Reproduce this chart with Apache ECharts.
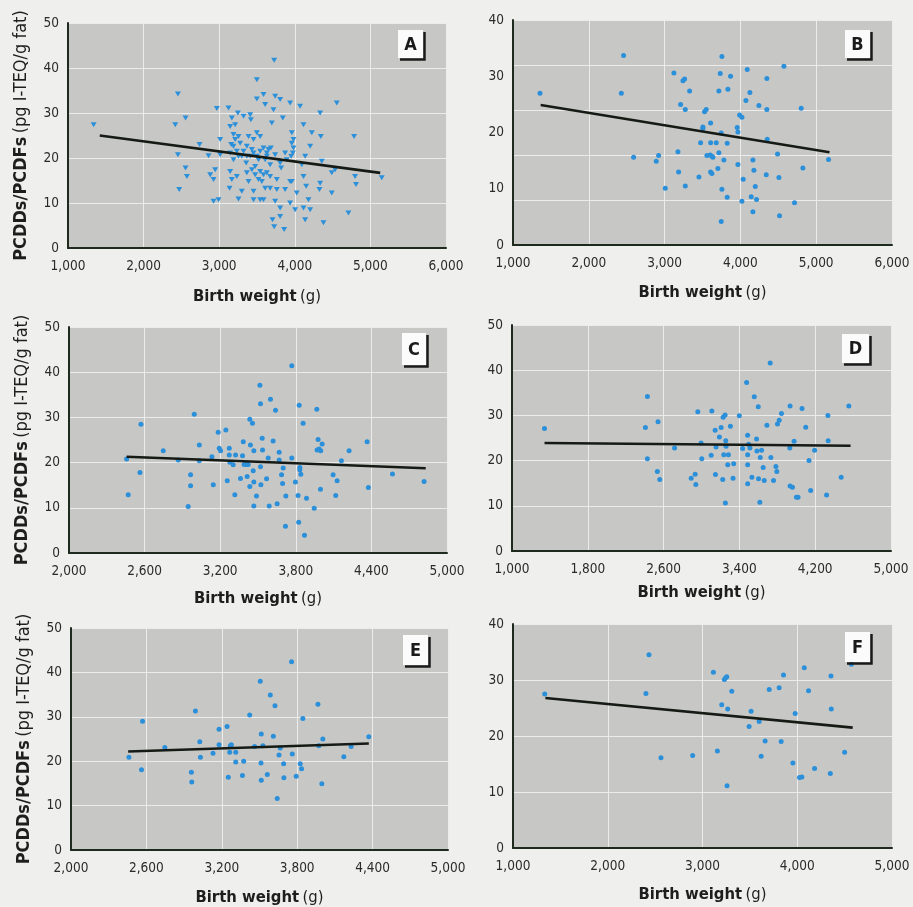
<!DOCTYPE html>
<html>
<head>
<meta charset="utf-8">
<script src="https://cdn.jsdelivr.net/npm/echarts@6/dist/echarts.min.js"></script>
<style>
html,body{margin:0;padding:0;background:#efefed;}
#c{width:913px;height:907px;}
</style>
</head>
<body>
<div id="c"></div>
<script>
// ---- Data ----
const panelLetters = ['A','B','C','D','E','F'];
const xTickA = [1000, 6000, 1000]; // min, max, interval
const xTickC = [2000, 5000, 600];
const xTickD = [1000, 5000, 800];
const xTickF = [1000, 5000, 1000];

const ptsA = [[1339,27.4],[2454,34.2],[2555,28.9],[2419,27.4],[2454,20.7],[2471,13.0],[2555,17.8],[2573,15.9],[2740,23.0],[2859,20.5],[2881,16.3],[2925,15.2],[2947,17.4],[2925,10.4],[2991,10.7],[2969,31.0],[3013,24.1],[3013,20.7],[3123,31.1],[3145,27.0],[3167,28.9],[3211,27.4],[3247,30.0],[3189,25.2],[3159,23.0],[3211,24.1],[3255,24.8],[3145,21.1],[3189,19.6],[3233,21.5],[3255,20.4],[3145,17.0],[3167,15.2],[3137,13.3],[3233,15.9],[3255,10.9],[3299,12.6],[3366,16.7],[3357,18.9],[3322,29.3],[3410,29.6],[3419,28.5],[3388,24.8],[3454,24.1],[3366,22.6],[3432,21.9],[3498,37.4],[3498,33.1],[3586,34.1],[3608,31.9],[3498,25.6],[3542,24.8],[3454,21.1],[3498,20.4],[3542,21.5],[3586,22.2],[3630,21.1],[3608,19.6],[3520,19.6],[3476,18.1],[3542,17.0],[3586,16.3],[3630,16.7],[3674,15.9],[3520,15.2],[3454,12.6],[3564,14.8],[3608,13.3],[3586,10.7],[3454,10.7],[3388,14.8],[3674,18.5],[3727,41.7],[3740,33.7],[3806,33.0],[3718,30.7],[3841,28.9],[3696,27.8],[3740,20.7],[3806,18.9],[3819,17.8],[3762,15.2],[3674,13.3],[3740,10.4],[3806,8.9],[3705,6.3],[3727,4.7],[3859,4.1],[3806,7.0],[3872,13.0],[3938,32.2],[3960,25.6],[3960,23.3],[3982,22.2],[3974,21.1],[3952,20.4],[3982,24.1],[3960,14.8],[3938,10.0],[4004,8.5],[4026,12.2],[4070,31.5],[4115,27.4],[4093,18.5],[4137,20.4],[4115,15.9],[4150,13.7],[4181,10.7],[4115,8.9],[4203,8.5],[4137,6.3],[4225,25.6],[4203,22.6],[4335,30.0],[4344,24.8],[4357,19.3],[4335,14.4],[4326,13.0],[4489,12.2],[4489,16.7],[4533,17.4],[4555,32.2],[4379,5.6],[4709,7.8],[4784,24.8],[4797,15.9],[4810,14.1],[5150,15.6],[3652,21.9],[3630,20.4],[3683,22.2],[3410,20.4],[3366,20.4],[3299,20.4],[3322,21.5],[3189,22.6],[3277,23.3],[3476,16.3],[3432,17.4],[3542,10.7],[3762,13.0],[3872,21.1],[3894,19.6],[3938,14.8]];
const lineA = [[1420,25.0],[5130,16.7]];

const ptsB = [[1356,27.0],[2459,33.7],[2429,27.0],[2591,15.6],[2921,15.9],[2890,14.9],[3009,10.1],[3123,30.6],[3176,16.6],[3185,13.0],[3211,25.0],[3264,29.5],[3242,29.2],[3273,24.1],[3273,10.5],[3330,27.4],[3453,12.1],[3475,18.2],[3527,23.7],[3549,24.1],[3505,20.7],[3505,21.0],[3607,18.2],[3681,18.2],[3558,15.9],[3602,16.0],[3637,15.6],[3624,15.8],[3607,13.0],[3624,12.7],[3607,21.7],[3703,13.6],[3716,16.4],[3734,30.5],[3716,27.4],[3756,33.5],[3747,19.9],[3756,9.9],[3782,15.1],[3826,8.5],[3747,4.2],[3826,18.1],[3835,27.7],[3870,30.0],[3958,20.9],[3967,20.1],[3967,14.3],[3989,23.1],[4020,22.7],[4037,11.7],[4020,7.8],[4073,25.7],[4090,31.2],[4125,27.1],[4143,8.6],[4165,15.1],[4178,13.3],[4196,10.4],[4213,8.1],[4165,5.9],[4244,24.8],[4349,29.6],[4349,24.1],[4354,18.8],[4341,12.5],[4490,16.2],[4508,12.0],[4516,5.2],[4574,31.8],[4714,7.5],[4802,24.3],[4824,13.7],[5163,15.2]];
const lineB = [[1365,24.9],[5176,16.5]];

const ptsC = [[2457,20.8],[2470,12.9],[2563,17.8],[2571,28.5],[2748,22.6],[2867,20.6],[2946,10.3],[2965,17.3],[2965,14.9],[2994,30.7],[3034,23.9],[3034,20.4],[3134,21.3],[3145,15.1],[3184,26.7],[3192,23.2],[3203,22.6],[3245,27.2],[3256,16.0],[3272,23.2],[3272,21.7],[3277,20.1],[3303,19.5],[3316,12.9],[3322,21.7],[3361,16.5],[3377,21.5],[3383,24.6],[3390,19.6],[3409,19.6],[3414,16.9],[3422,19.6],[3435,29.6],[3440,23.9],[3435,14.7],[3456,28.7],[3462,18.2],[3467,10.4],[3467,15.7],[3467,22.6],[3488,12.6],[3515,37.1],[3520,33.0],[3520,19.1],[3523,15.1],[3533,25.4],[3536,22.8],[3568,16.4],[3581,21.0],[3589,10.4],[3599,34.0],[3620,24.8],[3639,31.6],[3652,10.9],[3668,22.3],[3668,20.6],[3687,17.3],[3695,15.4],[3700,18.8],[3718,5.9],[3721,12.6],[3768,41.4],[3768,21.0],[3797,15.7],[3818,12.7],[3823,6.8],[3827,32.7],[3832,18.9],[3832,18.4],[3840,17.4],[3858,28.7],[3869,3.9],[3885,12.1],[3946,9.9],[3967,31.8],[3977,25.1],[3969,22.8],[3985,23.0],[3998,22.6],[4009,24.1],[3996,14.1],[4096,17.3],[4117,12.7],[4128,16.0],[4162,20.4],[4223,22.6],[4366,24.6],[4376,14.5],[4567,17.5],[4818,15.8]];
const lineC = [[2457,21.3],[4831,18.75]];

const ptsD = [[1343,27.1],[2429,34.2],[2408,27.3],[2429,20.4],[2541,28.6],[2534,17.6],[2559,15.8],[2716,22.8],[2891,16.1],[2933,17.0],[2940,14.7],[2961,30.8],[2996,23.9],[3003,20.4],[3102,21.2],[3109,31.0],[3144,26.7],[3154,23.0],[3147,16.9],[3189,25.2],[3207,27.3],[3224,15.8],[3228,29.6],[3235,21.3],[3249,30.1],[3252,10.6],[3256,24.4],[3259,23.2],[3277,19.1],[3284,21.3],[3305,27.6],[3333,16.1],[3340,19.3],[3399,29.9],[3434,22.7],[3476,37.3],[3487,25.6],[3487,21.3],[3487,19.1],[3487,14.9],[3497,23.6],[3511,22.8],[3532,16.3],[3557,34.1],[3581,24.8],[3585,22.1],[3599,31.9],[3602,16.0],[3616,10.8],[3620,20.7],[3634,22.3],[3651,18.5],[3662,15.6],[3690,27.8],[3725,41.6],[3732,20.7],[3760,15.6],[3785,18.7],[3795,17.6],[3802,28.1],[3820,28.9],[3844,30.4],[3932,22.8],[3935,32.1],[3935,14.4],[3960,14.1],[3977,24.3],[4002,11.9],[4019,11.9],[4061,31.5],[4100,27.4],[4135,20.0],[4152,13.4],[4194,22.3],[4320,12.4],[4334,30.0],[4337,24.4],[4474,16.3],[4555,32.1]];
const lineD = [[1343,23.9],[4573,23.3]];

const ptsE = [[2461,20.9],[2561,18.1],[2569,29.0],[2747,23.1],[2958,17.5],[2961,15.3],[2990,31.3],[3025,24.4],[3030,20.9],[3130,21.8],[3178,27.2],[3178,23.7],[3242,27.8],[3252,16.4],[3263,22.0],[3268,23.5],[3276,23.7],[3311,22.0],[3311,19.8],[3364,16.8],[3374,20.0],[3422,30.4],[3461,23.3],[3506,38.0],[3514,26.1],[3512,19.6],[3514,15.7],[3527,23.5],[3562,17.0],[3586,34.9],[3610,25.6],[3623,32.5],[3641,11.6],[3655,21.4],[3665,23.0],[3692,19.4],[3694,16.3],[3755,42.4],[3761,21.6],[3792,16.6],[3824,19.4],[3835,18.3],[3845,29.6],[3965,32.8],[3972,23.5],[3996,14.9],[4004,25.0],[4171,21.0],[4229,23.3],[4370,25.5]];
const lineE = [[2455,22.2],[4370,24.0]];

const ptsF = [[1335,27.5],[2435,34.5],[2403,27.6],[2562,16.1],[2896,16.5],[3115,31.4],[3157,17.3],[3203,25.6],[3231,30.1],[3245,30.4],[3256,30.6],[3266,24.8],[3259,11.1],[3309,28.0],[3492,21.7],[3513,24.4],[3598,22.6],[3619,16.4],[3661,19.1],[3704,28.3],[3809,28.6],[3830,19.0],[3855,30.9],[3954,15.2],[3978,24.0],[4024,12.6],[4049,12.7],[4074,32.2],[4119,28.1],[4183,14.2],[4349,13.3],[4356,30.7],[4359,24.8],[4500,17.1],[4571,32.8]];
const lineF = [[1342,26.8],[4585,21.5]];

// ---- Layout / styles ----
const FONT = "'Liberation Sans Narrow','DejaVu Sans Condensed','Liberation Sans',sans-serif";
const BLUE = '#2b8fd9';
const TXT = '#2b2b2b';
const grids = [
  {left:68, top:23, width:378, height:225},
  {left:513, top:20, width:379, height:225},
  {left:69, top:327, width:378, height:226},
  {left:512, top:325, width:379, height:226},
  {left:71, top:628, width:377, height:224},
  {left:513, top:624, width:379, height:224}
];
const xTicks = [xTickA, xTickA, xTickC, xTickD, xTickC, xTickF];
const xNameGaps = [40, 39, 37, 33, 39, 38];
const yMax = [50, 40, 50, 50, 50, 40];
const pts = [ptsA, ptsB, ptsC, ptsD, ptsE, ptsF];
const lines = [lineA, lineB, lineC, lineD, lineE, lineF];

const xRich = {
  b:{fontFamily:FONT, fontWeight:'bold', fontSize:16.5, color:'#1e1e1e'},
  n:{fontFamily:FONT, fontWeight:'normal', fontSize:16.5, color:'#1e1e1e'}
};
const yRich = {
  b:{fontFamily:FONT, fontWeight:'bold', fontSize:18, color:'#1e1e1e'},
  n:{fontFamily:FONT, fontWeight:'normal', fontSize:18, color:'#1e1e1e'}
};
const axisLine = {show:true, lineStyle:{color:'#1f2a1f', width:2}};
const splitLine = {show:true, lineStyle:{color:'#ececec', width:1}};
const axisLabel = {color:TXT, fontFamily:FONT, fontSize:13.5};

const xAxis = [], yAxis = [], series = [];
grids.forEach((g, i) => {
  g.show = true; g.backgroundColor = '#c7c8c5'; g.borderWidth = 0; g.containLabel = false;
  const t = xTicks[i];
  xAxis.push({
    type:'value', gridIndex:i, min:t[0], max:t[1], interval:t[2],
    axisLine, splitLine, axisTick:{show:false},
    axisLabel:Object.assign({margin:11, formatter:v=>v.toLocaleString('en-US')}, axisLabel),
    name:'{b|Birth weight} {n|(g)}', nameLocation:'middle', nameGap:xNameGaps[i],
    nameTextStyle:{rich:xRich}
  });
});
// y axes
const yName = '{b|PCDDs/PCDFs} {n|(pg I-TEQ/g fat)}';
grids.forEach((g, i) => {
  const left = (i % 2 === 0);
  const base = {
    type:'value', gridIndex:i, min:0, max:yMax[i], position:'left',
    axisLine, axisTick:{show:false},
    axisLabel:Object.assign({margin:9}, axisLabel)
  };
  if (i === 1) {
    yAxis.push(Object.assign({}, base, {interval:8, splitLine, axisLabel:{show:false}}));
  } else {
    yAxis.push(Object.assign({}, base, {interval:10, splitLine}));
  }
  if (left) {
    Object.assign(yAxis[yAxis.length-1], {name:yName, nameLocation:'middle', nameGap:38, nameTextStyle:{rich:yRich}});
  }
});
// extra label axis for panel B (labels every 10, grid lines every 8)
yAxis.push({type:'value', gridIndex:1, min:0, max:40, interval:10, position:'left',
  axisLine:{show:false}, axisTick:{show:false}, splitLine:{show:false},
  axisLabel:Object.assign({margin:9}, axisLabel)});

pts.forEach((p, i) => {
  series.push({
    type:'scatter', xAxisIndex:i, yAxisIndex:i, data:p,
    symbol: i === 0 ? 'triangle' : 'circle',
    symbolRotate: i === 0 ? 180 : 0,
    symbolSize: i === 0 ? [6,5] : 5,
    itemStyle:{color:BLUE, opacity:1},
    silent:true, z:3
  });
  series.push({
    type:'line', xAxisIndex:i, yAxisIndex:i, data:lines[i],
    symbol:'none', lineStyle:{color:'#161a14', width:2.6}, silent:true, z:4
  });
});

// panel letter boxes
const boxes = [[398,30,25,28],[845,30,25,28],[402,333,24,32],[842,334,27,29],[403,635,25,30],[845,632,25,30]];
const graphic = [];
boxes.forEach((b, i) => {
  const [x,y,w,h] = b;
  graphic.push({type:'rect', shape:{x:x, y:y, width:w, height:h}, style:{fill:'#fbfbfb'}, z:10});
  graphic.push({type:'polyline', shape:{points:[[x+2, y+h+1.5],[x+w+1.5, y+h+1.5],[x+w+1.5, y+2]]}, style:{stroke:'#1a1a1a', lineWidth:2.5, fill:null}, z:11});
  graphic.push({type:'text', x:x+w/2, y:y+h/2+1, style:{text:panelLetters[i], font:"bold 18px "+FONT, fill:'#1a1a1a', align:'center', verticalAlign:'middle'}, z:12});
});

const chart = echarts.init(document.getElementById('c'), null, {renderer:'canvas'});
chart.setOption({
  backgroundColor:'#efefed',
  animation:false,
  textStyle:{fontFamily:FONT},
  grid:grids, xAxis, yAxis, series, graphic
});
</script>
</body>
</html>
